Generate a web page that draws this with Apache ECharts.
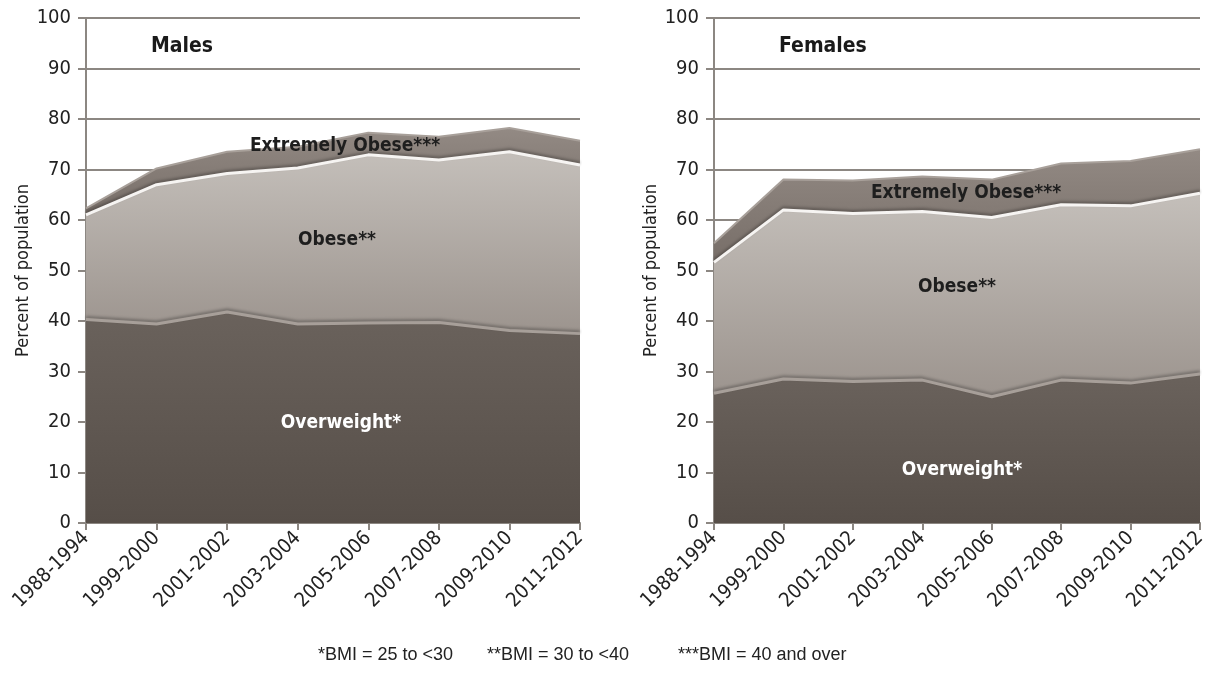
<!DOCTYPE html>
<html>
<head>
<meta charset="utf-8">
<script src="https://cdn.jsdelivr.net/npm/echarts@6/dist/echarts.min.js"></script>
<style>
html,body{margin:0;padding:0;background:#fff;}
#c{width:1217px;height:685px;}
</style>
</head>
<body>
<div id="c"></div>
<script>
const categories = ['1988-1994','1999-2000','2001-2002','2003-2004','2005-2006','2007-2008','2009-2010','2011-2012'];
// Males (percent, stacked)
const maleOverweight = [40.3, 39.4, 41.8, 39.4, 39.6, 39.7, 38.1, 37.5];
const maleObese      = [20.7, 27.6, 27.4, 30.9, 33.3, 32.2, 35.4, 33.4];
const maleExtreme    = [1.3, 3.2, 4.3, 4.2, 4.4, 4.6, 4.7, 4.8];
// Females (percent, stacked)
const femaleOverweight = [25.7, 28.5, 28.0, 28.3, 25.0, 28.3, 27.7, 29.5];
const femaleObese      = [25.9, 33.5, 33.3, 33.4, 35.5, 34.7, 35.1, 35.8];
const femaleExtreme    = [3.8, 6.0, 6.5, 6.9, 7.5, 8.2, 8.9, 8.7];
const yTicks = [0,10,20,30,40,50,60,70,80,90,100];

const FONT = "'Liberation Sans Narrow','DejaVu Sans Condensed','Arial Narrow','Liberation Sans',Arial,sans-serif";
const FONT2 = "'Liberation Sans',Arial,sans-serif";
const GRIDC = '#8c8782';

const chart = echarts.init(document.getElementById('c'), null, {renderer:'canvas'});

function grad(c1, c2){
  return new echarts.graphic.LinearGradient(0,0,0,1,[{offset:0,color:c1},{offset:1,color:c2}]);
}
function xAxis(gi){
  return {
    type:'category', gridIndex:gi, data:categories, boundaryGap:false,
    axisLine:{lineStyle:{color:GRIDC,width:2}},
    axisTick:{show:true,length:7,lineStyle:{color:GRIDC,width:2}},
    axisLabel:{rotate:45,fontSize:20,color:'#222',fontFamily:FONT,margin:12,interval:0},
    splitLine:{show:false}
  };
}
function yAxis(gi){
  return {
    type:'value', gridIndex:gi, min:0, max:100, interval:10,
    name:'Percent of population', nameLocation:'middle', nameGap:52, nameRotate:90,
    nameTextStyle:{fontSize:18,color:'#222',fontFamily:FONT},
    axisLine:{show:true,lineStyle:{color:GRIDC,width:2}},
    axisTick:{show:true,length:8,lineStyle:{color:GRIDC,width:2}},
    axisLabel:{fontSize:20,color:'#222',fontFamily:FONT,margin:15,
      formatter:function(v){return yTicks.indexOf(v)>=0?String(v):'';}},
    splitLine:{show:true,lineStyle:{color:GRIDC,width:2}}
  };
}
function series(gi, ow, ob, ex){
  const st = 's'+gi;
  return [
    {type:'line', xAxisIndex:gi, yAxisIndex:gi, stack:st, data:ow, symbol:'none',
     lineStyle:{color:'#a79f99',width:3,shadowColor:'rgba(0,0,0,0.3)',shadowBlur:3,shadowOffsetY:-2},
     areaStyle:{color:grad('#6a625c','#564e48'),opacity:1}, z:3},
    {type:'line', xAxisIndex:gi, yAxisIndex:gi, stack:st, data:ob, symbol:'none',
     lineStyle:{color:'#f6f4f2',width:3,shadowColor:'rgba(0,0,0,0.3)',shadowBlur:3,shadowOffsetY:-2},
     areaStyle:{color:grad('#c4bfba','#9c948e'),opacity:1}, z:2},
    {type:'line', xAxisIndex:gi, yAxisIndex:gi, stack:st, data:ex, symbol:'none',
     lineStyle:{color:'#a8a09a',width:2},
     areaStyle:{color:grad('#938a84','#776e68'),opacity:1}, z:1}
  ];
}
function txtAbs(x,y,t,size,color,bold){
  return {type:'text', x:x, y:y, z:100, zlevel:1, style:{text:t, fontSize:size, fill:color,
    fontWeight:bold?'bold':'normal', fontFamily:FONT, align:'center', verticalAlign:'middle'}};
}
function txtL(x,y,t,size,color,bold,fam){
  return {type:'text', x:x, y:y, z:100, zlevel:1, style:{text:t, fontSize:size, fill:color,
    fontWeight:bold?'bold':'normal', fontFamily:fam||FONT, align:'left', verticalAlign:'middle'}};
}

chart.setOption({
  animation:false,
  backgroundColor:'#ffffff',
  grid:[
    {left:86, right:637, top:18, bottom:162},
    {left:714, right:17, top:18, bottom:162}
  ],
  xAxis:[xAxis(0), xAxis(1)],
  yAxis:[yAxis(0), yAxis(1)],
  series: series(0, maleOverweight, maleObese, maleExtreme)
    .concat(series(1, femaleOverweight, femaleObese, femaleExtreme)),
  graphic:[
    txtL(151,47,'Males',21,'#1a1a1a',true),
    txtL(779,47,'Females',21,'#1a1a1a',true),
    txtAbs(345,146,'Extremely Obese***',19,'#1e1e1e',true),
    txtAbs(337,240,'Obese**',19,'#1e1e1e',true),
    txtAbs(341,423,'Overweight*',19,'#ffffff',true),
    txtAbs(966,193,'Extremely Obese***',19,'#1e1e1e',true),
    txtAbs(957,287,'Obese**',19,'#1e1e1e',true),
    txtAbs(962,470,'Overweight*',19,'#ffffff',true),
    txtL(318,655,'*BMI = 25 to <30',18,'#222',false,FONT2),
    txtL(487,655,'**BMI = 30 to <40',18,'#222',false,FONT2),
    txtL(678,655,'***BMI = 40 and over',18,'#222',false,FONT2)
  ]
});
</script>
</body>
</html>
